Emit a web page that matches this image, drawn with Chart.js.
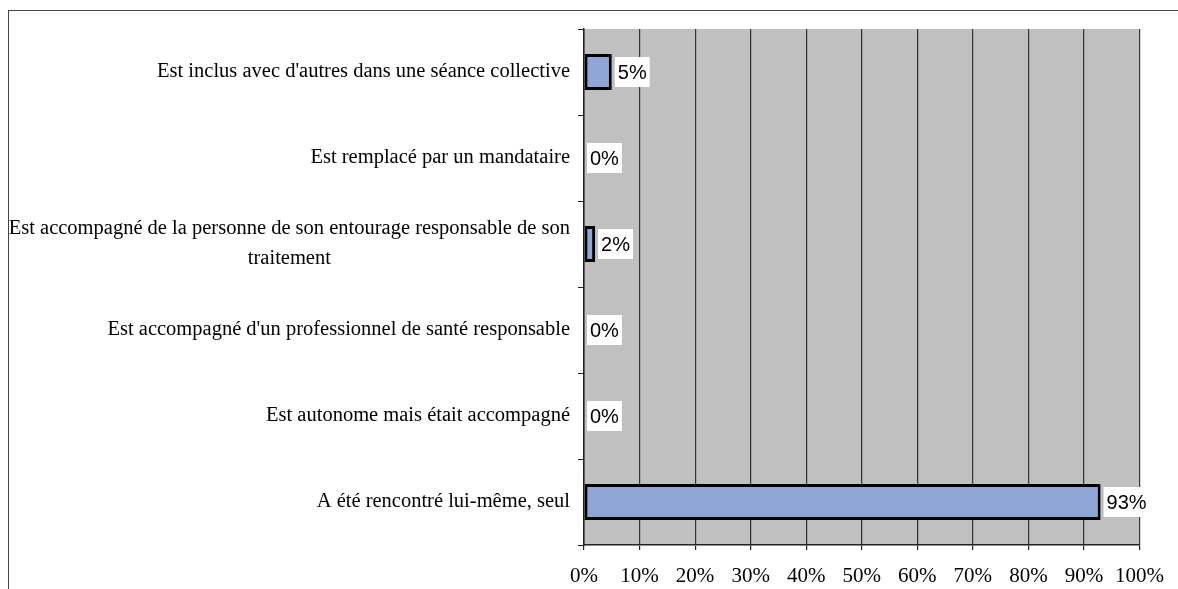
<!DOCTYPE html>
<html>
<head>
<meta charset="utf-8">
<script src="https://cdn.jsdelivr.net/npm/chart.js@4.4.1/dist/chart.umd.min.js"></script>
<style>
  html, body { margin: 0; padding: 0; background: #fff; overflow: hidden; }
  #wrap { position: relative; width: 1178px; height: 589px; }
  #frame { position: absolute; left: 8px; top: 10px; width: 1200px; height: 620px;
           border-left: 1px solid #444; border-top: 1px solid #444; }
  canvas { position: absolute; left: 0; top: 0; }
</style>
</head>
<body>
<div id="wrap">
  <div id="frame"></div>
  <canvas id="myChart" width="1178" height="589"></canvas>
</div>
<script>
const categories = [
    ["Est inclus avec d'autres dans une séance collective"],
    ["Est remplacé par un mandataire"],
    ["Est accompagné de la personne de son entourage responsable de son", "traitement"],
    ["Est accompagné d'un professionnel de santé responsable"],
    ["Est autonome mais était accompagné"],
    ["A été rencontré lui-même, seul"]
];
const percents = [5, 0, 2, 0, 0, 93];
const xTicks = [0, 10, 20, 30, 40, 50, 60, 70, 80, 90, 100];

// grey plot background
const plotBg = {
    id: 'plotBg',
    beforeDraw(chart) {
        const a = chart.chartArea;
        const c = chart.ctx;
        c.save();
        c.fillStyle = '#c0c0c0';
        c.fillRect(a.left, a.top, a.right - a.left, a.bottom - a.top);
        c.restore();
    }
};

// category labels: first line right aligned, next lines centred under it
const catLabels = {
    id: 'catLabels',
    afterDraw(chart) {
        const y = chart.scales.y;
        const c = chart.ctx;
        c.save();
        c.font = '20.5px "Liberation Serif", "Times New Roman", serif';
        c.fillStyle = '#000';
        c.textBaseline = 'middle';
        const right = y.right - 14;
        const lh = 30;
        categories.forEach((lines, i) => {
            const py = y.getPixelForTick(i);
            const top = py - (lines.length - 1) * lh / 2;
            const w0 = c.measureText(lines[0]).width;
            lines.forEach((t, j) => {
                if (j === 0) {
                    c.textAlign = 'right';
                    c.fillText(t, right, top);
                } else {
                    c.textAlign = 'center';
                    c.fillText(t, right - w0 / 2, top + j * lh);
                }
            });
        });
        c.restore();
    }
};

// value labels with white box
const valueLabels = {
    id: 'valueLabels',
    afterDatasetsDraw(chart) {
        const c = chart.ctx;
        const meta = chart.getDatasetMeta(0);
        c.save();
        c.font = '20px "Liberation Sans", Arial, sans-serif';
        c.textBaseline = 'middle';
        c.textAlign = 'left';
        meta.data.forEach((bar, i) => {
            const txt = percents[i] + '%';
            const w = c.measureText(txt).width;
            const x = bar.x + 3;
            c.fillStyle = '#fff';
            c.fillRect(x, bar.y - 15, w + 6, 30);
            c.fillStyle = '#000';
            c.fillText(txt, x + 3, bar.y + 1);
        });
        c.restore();
    }
};

const ctx = document.getElementById('myChart').getContext('2d');
new Chart(ctx, {
    type: 'bar',
    data: {
        labels: categories.map(l => l.join(' ')),
        datasets: [{
            data: percents,
            backgroundColor: '#8fa5d6',
            borderColor: '#000',
            borderWidth: 3,
            borderSkipped: false,
            categoryPercentage: 0.42,
            barPercentage: 1
        }]
    },
    options: {
        indexAxis: 'y',
        responsive: false,
        animation: false,
        layout: { padding: { top: 29, right: 35, left: 0, bottom: 0 } },
        plugins: { legend: { display: false }, tooltip: { enabled: false } },
        scales: {
            x: {
                min: 0,
                max: 100,
                afterBuildTicks(scale) { scale.ticks = xTicks.map(v => ({ value: v })); },
                afterFit(scale) { scale.height = 44; },
                ticks: {
                    callback: v => v + '%',
                    font: { family: '"Liberation Serif", "Times New Roman", serif', size: 21 },
                    color: '#000',
                    padding: 14,
                    maxRotation: 0
                },
                grid: { color: '#333', lineWidth: 1.2, tickLength: 5, tickColor: '#222' },
                border: { color: '#222', width: 1.5 }
            },
            y: {
                afterFit(scale) { scale.width = 584; },
                ticks: { display: false },
                grid: { offset: true, drawOnChartArea: false, tickLength: 6, tickColor: '#222' },
                border: { color: '#222', width: 1.5 }
            }
        }
    },
    plugins: [plotBg, catLabels, valueLabels]
});
</script>
</body>
</html>
